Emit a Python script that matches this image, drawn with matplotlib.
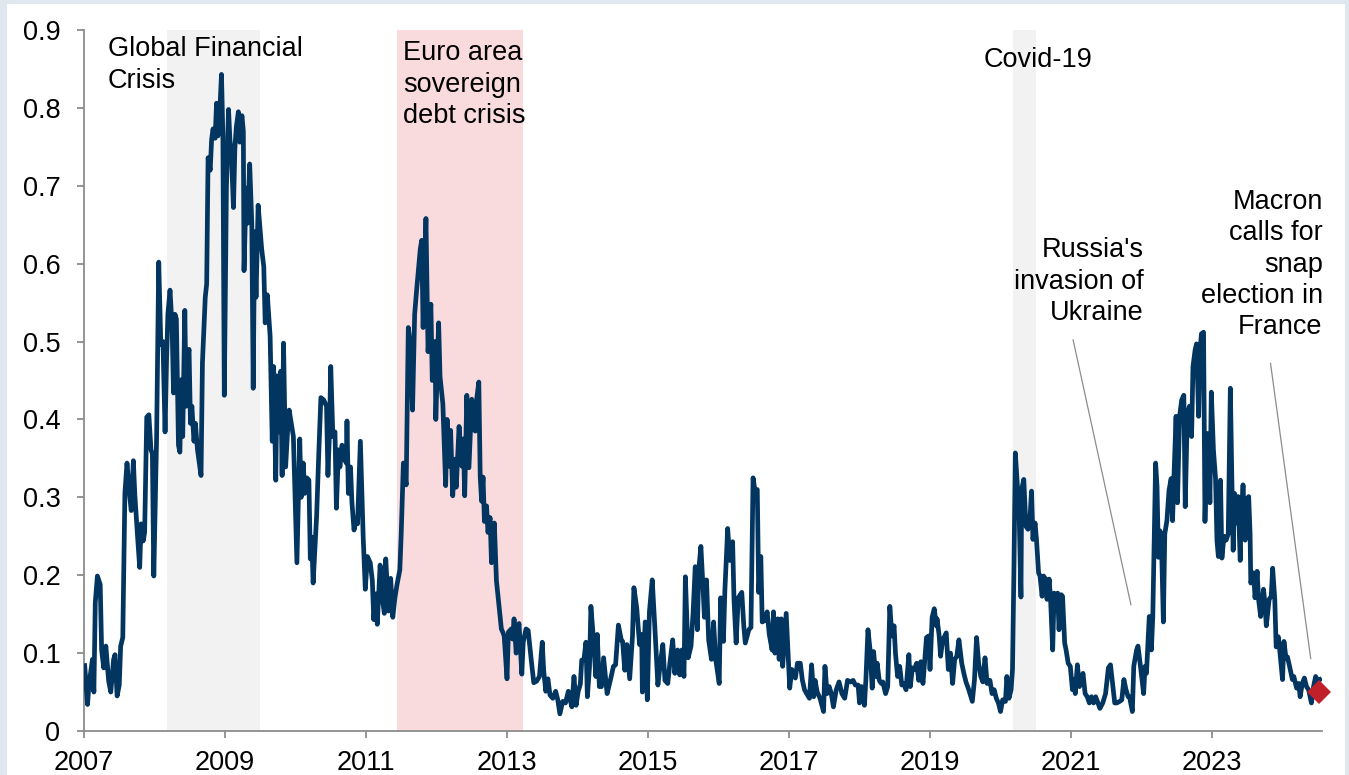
import numpy as np
import matplotlib
matplotlib.use("Agg")
import matplotlib.pyplot as plt
from matplotlib.ticker import FuncFormatter
from matplotlib.patches import Rectangle

plt.rcParams['font.family'] = ['Liberation Sans', 'DejaVu Sans']
myfontsize = 19.5
my_linespacing = 1.27

line_color = '#02355f'
gray_shade = '#f2f2f2'
pink_shade = '#f9dbde'
frame_color = '#dfe7ef'

# weekly-ish readings (decimal year, value)
pre_gfc = [(2007.01, 0.084), (2007.05, 0.034), (2007.07, 0.059), (2007.12, 0.092), (2007.14, 0.05),
           (2007.16, 0.165), (2007.19, 0.199), (2007.23, 0.188), (2007.25, 0.104), (2007.28, 0.081),
           (2007.31, 0.109), (2007.35, 0.064), (2007.38, 0.05), (2007.42, 0.092), (2007.44, 0.098),
           (2007.47, 0.045), (2007.50, 0.059), (2007.52, 0.109), (2007.55, 0.12), (2007.58, 0.305),
           (2007.61, 0.344), (2007.65, 0.30), (2007.67, 0.283), (2007.70, 0.347), (2007.72, 0.305),
           (2007.76, 0.249), (2007.79, 0.21), (2007.81, 0.266), (2007.84, 0.244), (2007.86, 0.255),
           (2007.89, 0.403), (2007.92, 0.406), (2007.95, 0.361), (2007.97, 0.356), (2007.99, 0.199),
           (2008.03, 0.378), (2008.06, 0.602), (2008.09, 0.496), (2008.12, 0.50), (2008.15, 0.384)]

gfc = [(2008.17, 0.473), (2008.19, 0.535), (2008.22, 0.566), (2008.25, 0.518), (2008.27, 0.434),
       (2008.29, 0.535), (2008.31, 0.529), (2008.34, 0.367), (2008.36, 0.358), (2008.38, 0.451),
       (2008.40, 0.378), (2008.43, 0.54), (2008.45, 0.417), (2008.48, 0.484), (2008.49, 0.49),
       (2008.51, 0.395), (2008.53, 0.417), (2008.56, 0.372), (2008.58, 0.395), (2008.61, 0.361),
       (2008.66, 0.328), (2008.68, 0.473), (2008.72, 0.557), (2008.74, 0.574), (2008.76, 0.736),
       (2008.79, 0.72), (2008.81, 0.759), (2008.83, 0.773), (2008.86, 0.761), (2008.88, 0.806),
       (2008.90, 0.764), (2008.93, 0.803), (2008.95, 0.843), (2008.97, 0.764), (2008.99, 0.431),
       (2009.02, 0.697), (2009.05, 0.798), (2009.07, 0.759), (2009.09, 0.742), (2009.12, 0.672),
       (2009.14, 0.748), (2009.16, 0.775), (2009.19, 0.795), (2009.21, 0.756), (2009.24, 0.79),
       (2009.26, 0.77), (2009.27, 0.591), (2009.30, 0.697), (2009.32, 0.652), (2009.35, 0.728),
       (2009.38, 0.652), (2009.40, 0.44), (2009.42, 0.641), (2009.44, 0.557), (2009.47, 0.675)]

post_gfc = [(2009.52, 0.619), (2009.55, 0.596), (2009.57, 0.524), (2009.60, 0.56), (2009.64, 0.507),
            (2009.67, 0.372), (2009.69, 0.468), (2009.72, 0.322), (2009.74, 0.456), (2009.77, 0.384),
            (2009.79, 0.462), (2009.81, 0.328), (2009.83, 0.498), (2009.86, 0.339), (2009.89, 0.389),
            (2009.91, 0.412), (2009.94, 0.395), (2009.97, 0.378), (2010.02, 0.216), (2010.06, 0.375),
            (2010.08, 0.30), (2010.11, 0.344), (2010.13, 0.305), (2010.16, 0.325), (2010.19, 0.322),
            (2010.21, 0.221), (2010.23, 0.249), (2010.25, 0.19), (2010.30, 0.277), (2010.33, 0.356),
            (2010.36, 0.428), (2010.40, 0.425), (2010.44, 0.417), (2010.46, 0.328), (2010.48, 0.378),
            (2010.50, 0.468), (2010.53, 0.378), (2010.56, 0.384), (2010.58, 0.286), (2010.61, 0.361),
            (2010.63, 0.339), (2010.66, 0.367), (2010.69, 0.35), (2010.72, 0.344), (2010.73, 0.398),
            (2010.75, 0.305), (2010.78, 0.339), (2010.80, 0.294), (2010.83, 0.258), (2010.86, 0.272),
            (2010.88, 0.266), (2010.92, 0.372), (2010.96, 0.249), (2010.99, 0.182), (2011.02, 0.224),
            (2011.06, 0.216), (2011.09, 0.193), (2011.11, 0.143), (2011.14, 0.176), (2011.16, 0.137),
            (2011.20, 0.213), (2011.24, 0.165), (2011.26, 0.151), (2011.28, 0.221), (2011.32, 0.154),
            (2011.35, 0.196), (2011.38, 0.146), (2011.41, 0.171)]

euro = [(2011.44, 0.188), (2011.48, 0.207), (2011.50, 0.255), (2011.53, 0.344), (2011.57, 0.316),
        (2011.60, 0.518), (2011.63, 0.496), (2011.66, 0.412), (2011.69, 0.535), (2011.72, 0.568),
        (2011.77, 0.619), (2011.79, 0.63), (2011.81, 0.518), (2011.85, 0.658), (2011.88, 0.487),
        (2011.92, 0.548), (2011.94, 0.45), (2011.98, 0.50), (2011.99, 0.40), (2012.03, 0.524),
        (2012.05, 0.455), (2012.09, 0.42), (2012.13, 0.315), (2012.15, 0.40), (2012.18, 0.34),
        (2012.20, 0.386), (2012.23, 0.302), (2012.26, 0.349), (2012.28, 0.313), (2012.32, 0.391),
        (2012.36, 0.34), (2012.38, 0.375), (2012.40, 0.302), (2012.43, 0.431), (2012.46, 0.338),
        (2012.50, 0.426), (2012.52, 0.389), (2012.55, 0.385), (2012.57, 0.426), (2012.60, 0.448),
        (2012.62, 0.326), (2012.64, 0.295), (2012.66, 0.326), (2012.68, 0.269), (2012.71, 0.289),
        (2012.73, 0.255), (2012.76, 0.274), (2012.78, 0.216), (2012.82, 0.267), (2012.85, 0.193),
        (2012.88, 0.167), (2012.92, 0.131), (2012.94, 0.127), (2012.96, 0.122), (2013.00, 0.067),
        (2013.02, 0.127), (2013.06, 0.131), (2013.08, 0.118), (2013.10, 0.144), (2013.13, 0.10),
        (2013.15, 0.127), (2013.17, 0.138), (2013.21, 0.073)]

calm_13_16 = [(2013.23, 0.114), (2013.27, 0.131), (2013.30, 0.129), (2013.35, 0.086), (2013.38, 0.062),
              (2013.42, 0.064), (2013.46, 0.07), (2013.50, 0.114), (2013.52, 0.078), (2013.55, 0.051),
              (2013.58, 0.067), (2013.61, 0.046), (2013.65, 0.042), (2013.69, 0.051), (2013.72, 0.04),
              (2013.75, 0.022), (2013.79, 0.038), (2013.83, 0.036), (2013.87, 0.051), (2013.89, 0.042),
              (2013.92, 0.031), (2013.95, 0.07), (2013.98, 0.033), (2014.01, 0.051), (2014.04, 0.06),
              (2014.06, 0.091), (2014.09, 0.091), (2014.12, 0.114), (2014.14, 0.044), (2014.17, 0.082),
              (2014.19, 0.16), (2014.22, 0.125), (2014.26, 0.07), (2014.28, 0.124), (2014.31, 0.057),
              (2014.34, 0.057), (2014.37, 0.094), (2014.42, 0.048), (2014.46, 0.063), (2014.51, 0.083),
              (2014.54, 0.085), (2014.58, 0.136), (2014.62, 0.117), (2014.64, 0.115), (2014.67, 0.078),
              (2014.70, 0.111), (2014.74, 0.067), (2014.78, 0.122), (2014.80, 0.184), (2014.84, 0.158),
              (2014.88, 0.111), (2014.91, 0.124), (2014.92, 0.05), (2014.96, 0.14), (2014.99, 0.04),
              (2015.02, 0.153), (2015.06, 0.194), (2015.10, 0.128), (2015.14, 0.059), (2015.17, 0.083),
              (2015.21, 0.111), (2015.24, 0.065), (2015.28, 0.061), (2015.31, 0.087), (2015.35, 0.117),
              (2015.38, 0.074), (2015.42, 0.104), (2015.45, 0.072), (2015.48, 0.104), (2015.51, 0.07),
              (2015.53, 0.198), (2015.57, 0.094), (2015.61, 0.109), (2015.64, 0.153), (2015.67, 0.211),
              (2015.70, 0.13), (2015.72, 0.207), (2015.75, 0.237), (2015.78, 0.185), (2015.80, 0.146),
              (2015.83, 0.194), (2015.86, 0.117), (2015.90, 0.092), (2015.93, 0.14), (2015.96, 0.092),
              (2016.01, 0.061), (2016.03, 0.171), (2016.07, 0.115), (2016.09, 0.18), (2016.13, 0.26),
              (2016.16, 0.219), (2016.18, 0.224), (2016.20, 0.243), (2016.22, 0.168), (2016.25, 0.113),
              (2016.28, 0.171), (2016.33, 0.178), (2016.36, 0.133), (2016.38, 0.113), (2016.43, 0.13),
              (2016.46, 0.133), (2016.49, 0.325), (2016.52, 0.307), (2016.55, 0.31), (2016.57, 0.178),
              (2016.60, 0.224), (2016.62, 0.14), (2016.66, 0.142), (2016.69, 0.153), (2016.72, 0.124)]

calm_17_19 = [(2016.76, 0.104), (2016.78, 0.153), (2016.80, 0.10), (2016.84, 0.144), (2016.86, 0.092),
              (2016.89, 0.144), (2016.91, 0.083), (2016.96, 0.151), (2016.99, 0.092), (2017.01, 0.055),
              (2017.04, 0.079), (2017.09, 0.068), (2017.12, 0.087), (2017.16, 0.087), (2017.19, 0.065),
              (2017.22, 0.053), (2017.25, 0.048), (2017.29, 0.042), (2017.32, 0.085), (2017.35, 0.044),
              (2017.37, 0.065), (2017.40, 0.05), (2017.44, 0.042), (2017.49, 0.025), (2017.51, 0.083),
              (2017.54, 0.048), (2017.57, 0.057), (2017.60, 0.048), (2017.63, 0.031), (2017.67, 0.053),
              (2017.71, 0.063), (2017.75, 0.048), (2017.79, 0.042), (2017.83, 0.065), (2017.87, 0.063),
              (2017.91, 0.065), (2017.94, 0.059), (2017.98, 0.059), (2018.00, 0.036), (2018.03, 0.057),
              (2018.07, 0.033), (2018.09, 0.065), (2018.12, 0.13), (2018.15, 0.104), (2018.18, 0.055),
              (2018.20, 0.102), (2018.23, 0.07), (2018.25, 0.087), (2018.28, 0.065), (2018.31, 0.061),
              (2018.33, 0.063), (2018.37, 0.048), (2018.40, 0.057), (2018.43, 0.16), (2018.46, 0.122),
              (2018.49, 0.135), (2018.51, 0.10), (2018.54, 0.07), (2018.57, 0.083), (2018.60, 0.059),
              (2018.63, 0.061), (2018.66, 0.053), (2018.70, 0.098), (2018.72, 0.057), (2018.75, 0.081),
              (2018.78, 0.079), (2018.81, 0.087), (2018.84, 0.065), (2018.87, 0.089), (2018.90, 0.061),
              (2018.95, 0.12), (2018.98, 0.122), (2019.00, 0.079), (2019.03, 0.146), (2019.06, 0.157),
              (2019.09, 0.135), (2019.10, 0.144), (2019.13, 0.122), (2019.15, 0.096), (2019.18, 0.117),
              (2019.21, 0.122), (2019.23, 0.126), (2019.26, 0.079), (2019.29, 0.10), (2019.32, 0.061),
              (2019.35, 0.092), (2019.38, 0.096), (2019.41, 0.117), (2019.45, 0.087), (2019.48, 0.074),
              (2019.51, 0.063), (2019.55, 0.053), (2019.60, 0.038), (2019.63, 0.065), (2019.66, 0.12),
              (2019.69, 0.087), (2019.72, 0.07), (2019.75, 0.063), (2019.78, 0.094), (2019.81, 0.061),
              (2019.85, 0.065), (2019.88, 0.048), (2019.91, 0.053), (2019.94, 0.042), (2019.97, 0.036),
              (2020.00, 0.025), (2020.03, 0.04), (2020.07, 0.038), (2020.09, 0.07), (2020.12, 0.042),
              (2020.15, 0.053)]

covid_ukraine = [(2020.17, 0.079), (2020.19, 0.206), (2020.21, 0.357), (2020.24, 0.314), (2020.26, 0.297),
                 (2020.29, 0.172), (2020.30, 0.31), (2020.33, 0.323), (2020.36, 0.263), (2020.39, 0.259),
                 (2020.42, 0.276), (2020.44, 0.308), (2020.46, 0.246), (2020.49, 0.267), (2020.51, 0.246),
                 (2020.54, 0.203), (2020.56, 0.199), (2020.59, 0.173), (2020.61, 0.199), (2020.64, 0.195),
                 (2020.66, 0.169), (2020.69, 0.195), (2020.71, 0.169), (2020.74, 0.104), (2020.76, 0.177),
                 (2020.78, 0.169), (2020.81, 0.177), (2020.83, 0.13), (2020.86, 0.175), (2020.88, 0.173),
                 (2020.91, 0.113), (2020.93, 0.104), (2020.96, 0.087), (2020.99, 0.083), (2021.02, 0.053),
                 (2021.04, 0.066), (2021.06, 0.048), (2021.09, 0.085), (2021.12, 0.057), (2021.15, 0.066),
                 (2021.17, 0.074), (2021.20, 0.048), (2021.23, 0.044), (2021.26, 0.036), (2021.29, 0.044),
                 (2021.32, 0.036), (2021.35, 0.044), (2021.41, 0.029), (2021.45, 0.036), (2021.49, 0.048),
                 (2021.53, 0.081), (2021.56, 0.085), (2021.59, 0.061), (2021.62, 0.036), (2021.65, 0.036),
                 (2021.69, 0.038), (2021.72, 0.04), (2021.75, 0.066), (2021.78, 0.053), (2021.81, 0.044),
                 (2021.83, 0.044), (2021.87, 0.025), (2021.89, 0.083), (2021.93, 0.104), (2021.95, 0.109),
                 (2021.98, 0.087), (2022.03, 0.048), (2022.05, 0.083), (2022.07, 0.074), (2022.11, 0.147),
                 (2022.14, 0.104), (2022.16, 0.147), (2022.20, 0.344), (2022.22, 0.314), (2022.24, 0.223)]

recent = [(2022.26, 0.257), (2022.28, 0.253), (2022.31, 0.14), (2022.33, 0.253), (2022.36, 0.27),
          (2022.39, 0.309), (2022.42, 0.324), (2022.44, 0.27), (2022.46, 0.326), (2022.49, 0.404),
          (2022.51, 0.293), (2022.54, 0.404), (2022.57, 0.425), (2022.60, 0.431), (2022.62, 0.288),
          (2022.65, 0.408), (2022.68, 0.417), (2022.71, 0.378), (2022.73, 0.468), (2022.76, 0.489),
          (2022.78, 0.497), (2022.81, 0.404), (2022.83, 0.489), (2022.85, 0.51), (2022.88, 0.512),
          (2022.90, 0.269), (2022.93, 0.382), (2022.95, 0.365), (2022.97, 0.293), (2022.99, 0.435),
          (2023.02, 0.361), (2023.05, 0.324), (2023.07, 0.245), (2023.09, 0.224), (2023.12, 0.322),
          (2023.14, 0.222), (2023.17, 0.25), (2023.20, 0.245), (2023.23, 0.253), (2023.26, 0.44),
          (2023.28, 0.331), (2023.30, 0.232), (2023.32, 0.305), (2023.35, 0.267), (2023.37, 0.301),
          (2023.40, 0.219), (2023.41, 0.267), (2023.44, 0.316), (2023.47, 0.245), (2023.49, 0.297),
          (2023.52, 0.301), (2023.54, 0.253), (2023.55, 0.19), (2023.59, 0.203), (2023.61, 0.171),
          (2023.64, 0.205), (2023.66, 0.169), (2023.69, 0.147), (2023.73, 0.182), (2023.75, 0.165),
          (2023.77, 0.135), (2023.81, 0.169), (2023.84, 0.173), (2023.86, 0.209), (2023.89, 0.169),
          (2023.91, 0.108), (2023.94, 0.121), (2023.96, 0.104), (2024.00, 0.066), (2024.02, 0.115),
          (2024.05, 0.093), (2024.07, 0.095), (2024.10, 0.083), (2024.14, 0.066), (2024.16, 0.07),
          (2024.20, 0.055), (2024.23, 0.061), (2024.25, 0.044), (2024.28, 0.061), (2024.31, 0.068),
          (2024.34, 0.057), (2024.37, 0.053), (2024.41, 0.036), (2024.44, 0.057), (2024.47, 0.07),
          (2024.50, 0.064), (2024.53, 0.066)]

latest_point = (2024.52, 0.05)

# shaded episodes (start, end, colour key)
episodes = [(2008.18, 2009.50, 'gray'), (2011.435, 2013.23, 'pink'), (2020.17, 2020.50, 'gray')]

year_ticks = [2007, 2009, 2011, 2013, 2015, 2017, 2019, 2021, 2023]
y_ticks = [0, 0.1, 0.2, 0.3, 0.4, 0.5, 0.6, 0.7, 0.8, 0.9]

# ---------------------------------------------------------------------------

series = pre_gfc + gfc + post_gfc + euro + calm_13_16 + calm_17_19 + covid_ukraine + recent
dates = np.array([p[0] for p in series])
values = np.array([p[1] for p in series])

fig = plt.figure(figsize=(13.49, 7.75), dpi=100)
fig.patch.set_facecolor(frame_color)
panel = Rectangle((7 / 1349, 0), (1345 - 7) / 1349, 771 / 775,
                  transform=fig.transFigure, facecolor='white', edgecolor='none', zorder=-10)
fig.add_artist(panel)

ax = fig.add_axes([84 / 1349, 1 - 731 / 775, (1322 - 84) / 1349, (731 - 30) / 775])
ax.set_facecolor('none')
ax.set_zorder(1)

for start, end, kind in episodes:
    ax.axvspan(start, end, color=pink_shade if kind == 'pink' else gray_shade, lw=0, zorder=1)

ax.plot(dates, values, color=line_color, linewidth=3.4, solid_joinstyle='round', zorder=3)
ax.plot([latest_point[0]], [latest_point[1]], marker='D', color='#c0202a', markersize=12.5,
        markeredgewidth=0, zorder=4, clip_on=False)

ax.set_xlim(2007, 2024.56)
ax.set_ylim(0, 0.9)
ax.set_xticks(year_ticks)
ax.set_xticklabels([str(y) for y in year_ticks])
ax.set_yticks(y_ticks)
ax.yaxis.set_major_formatter(FuncFormatter(lambda v, p: '%g' % round(v, 2)))

for s in ['top', 'right']:
    ax.spines[s].set_visible(False)
for s in ['left', 'bottom']:
    ax.spines[s].set_color('#8c8c8c')
    ax.spines[s].set_linewidth(1.3)
ax.tick_params(axis='both', colors='#8c8c8c', labelcolor='black', labelsize=myfontsize,
               length=5, width=1.3, direction='out')
ax.tick_params(axis='y', pad=12)
ax.tick_params(axis='x', pad=9)

# episode labels
ax.text(2007.34, 0.892, 'Global Financial\nCrisis', fontsize=myfontsize, ha='left', va='top',
        linespacing=my_linespacing)
ax.text(2011.53, 0.887, 'Euro area\nsovereign\ndebt crisis', fontsize=myfontsize, ha='left', va='top',
        linespacing=my_linespacing)
ax.text(2019.76, 0.878, 'Covid-19', fontsize=myfontsize, ha='left', va='top')
ax.text(2022.03, 0.634, "Russia's\ninvasion of\nUkraine", fontsize=myfontsize, ha='right', va='top',
        multialignment='right', linespacing=my_linespacing)
ax.text(2024.57, 0.696, 'Macron\ncalls for\nsnap\nelection in\nFrance', fontsize=myfontsize, ha='right',
        va='top', multialignment='right', clip_on=False, linespacing=my_linespacing)

# leader lines
ax.plot([2021.03, 2021.85], [0.502, 0.162], color='#8c8c8c', linewidth=0.9, zorder=2)
ax.plot([2023.83, 2024.40], [0.472, 0.093], color='#8c8c8c', linewidth=0.9, zorder=2)

fig.savefig('out.png', dpi=100, facecolor=fig.get_facecolor())
